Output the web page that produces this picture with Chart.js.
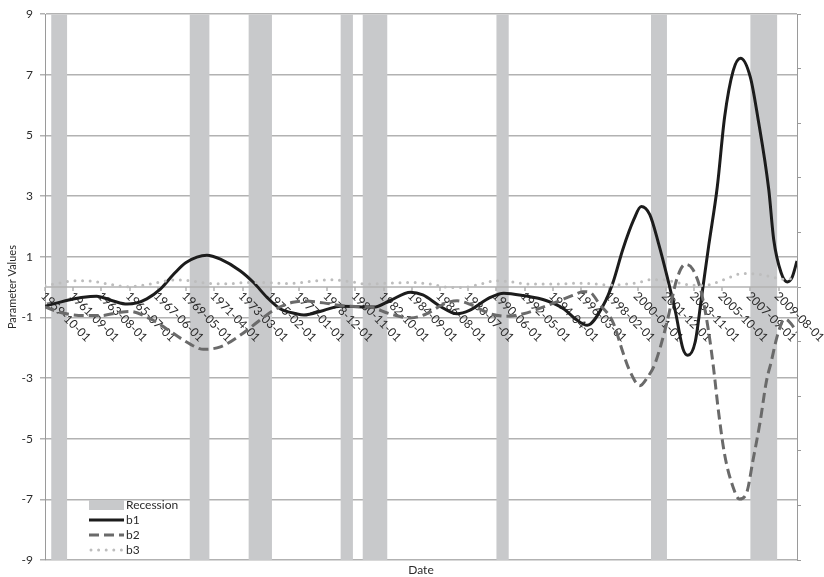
<!DOCTYPE html>
<html>
<head>
<meta charset="utf-8">
<script src="https://cdn.jsdelivr.net/npm/chart.js@4.4.1/dist/chart.umd.min.js"></script>
<style>
  html, body { margin: 0; padding: 0; background: #ffffff; }
  #wrap { width: 824px; height: 577px; }
</style>
</head>
<body>
<div id="wrap"><canvas id="chart" width="824" height="577"></canvas></div>
<script>
// Date labels shown along the zero line (every 23 months)
const AXIS_LABELS = ['1959-10-01','1961-09-01','1963-08-01','1965-07-01','1967-06-01','1969-05-01',
  '1971-04-01','1973-03-01','1975-02-01','1977-01-01','1978-12-01','1980-11-01','1982-10-01',
  '1984-09-01','1986-08-01','1988-07-01','1990-06-01','1992-05-01','1994-04-01','1996-03-01',
  '1998-02-01','2000-01-01','2001-12-01','2003-11-01','2005-10-01','2007-09-01','2009-08-01'];
const FIRST_MONTH = '1959-10';
const LAST_MONTH = '2010-11';
const Y_TICKS = [-9, -7, -5, -3, -1, 1, 3, 5, 7, 9];

// Recession periods (first month, month after the end)
const REC_START = ['1960-03','1969-08','1973-08','1979-11','1981-05','1990-06','2000-12','2007-09'];
const REC_END   = ['1961-04','1970-12','1975-03','1980-09','1983-01','1991-04','2002-01','2009-07'];

// b1 parameter path
const B1_DATES = ['1959-10','1961-09','1962-11','1963-04','1964-05','1965-05','1966-01','1966-09','1967-08',
  '1968-07','1969-05','1970-10','1971-09','1973-01','1973-12','1974-11','1975-10','1976-11','1977-05',
  '1978-09','1979-11','1982-02','1983-03','1984-08','1985-06','1986-08','1987-10','1988-08','1990-01',
  '1990-12','1992-04','1993-11','1995-01','1995-11','1996-08','1997-09','1998-05','1999-01','1999-10',
  '2000-04','2000-11','2001-06','2002-01','2002-08','2003-02','2003-06','2003-12','2004-05','2004-11',
  '2005-06','2005-12','2006-07','2007-01','2007-09','2008-03','2008-12','2009-04','2009-10','2010-03',
  '2010-07','2010-11'];
const B1_VALUES = [-0.63,-0.39,-0.31,-0.30,-0.45,-0.56,-0.52,-0.39,-0.07,
  0.43,0.81,1.05,0.92,0.54,0.15,-0.34,-0.72,-0.88,-0.92,
  -0.77,-0.63,-0.66,-0.45,-0.17,-0.26,-0.63,-0.88,-0.77,-0.34,
  -0.20,-0.28,-0.45,-0.72,-1.07,-1.26,-0.61,0.15,1.24,2.23,
  2.66,2.39,1.46,0.37,-0.83,-2.03,-2.25,-1.81,-0.39,1.36,
  3.30,5.61,7.14,7.55,6.92,5.61,3.21,1.57,0.48,0.17,
  0.32,0.86];

// b2 parameter path
const B2_DATES = ['1959-10','1960-10','1962-05','1963-07','1964-11','1965-07','1966-12','1968-01','1969-03',
  '1970-04','1970-07','1971-09','1973-01','1974-03','1975-04','1976-08','1977-05','1978-09','1980-04',
  '1981-11','1983-03','1984-08','1985-09','1986-11','1987-10','1988-08','1990-01','1991-02','1992-04',
  '1993-08','1995-01','1995-11','1996-04','1996-10','1997-06','1998-05','1999-01','1999-06','2000-03',
  '2000-09','2001-03','2002-01','2002-09','2003-04','2003-10','2004-05','2004-11','2005-03','2005-07',
  '2005-12','2006-07','2006-12','2007-06','2007-11','2008-05','2008-10','2009-02','2009-07','2010-01',
  '2010-06','2010-11'];
const B2_VALUES = [-0.65,-0.83,-0.94,-0.94,-0.83,-0.80,-1.05,-1.37,-1.75,
  -2.03,-2.05,-1.97,-1.59,-1.16,-0.77,-0.50,-0.46,-0.52,-0.63,
  -0.66,-0.88,-1.02,-0.88,-0.56,-0.45,-0.56,-0.88,-0.96,-0.88,
  -0.66,-0.39,-0.23,-0.15,-0.17,-0.56,-1.16,-2.14,-2.70,-3.25,
  -2.98,-2.55,-1.16,0.26,0.75,0.59,-0.17,-1.48,-2.68,-4.10,
  -5.52,-6.61,-6.99,-6.78,-5.74,-4.43,-3.12,-2.46,-1.60,-1.05,
  -1.20,-1.50];

// b3 parameter path
const B3_DATES = ['1959-10','1960-10','1961-09','1962-08','1963-07','1964-06','1965-05','1966-03','1967-02',
  '1968-01','1968-09','1969-08','1970-10','1972-02','1973-06','1974-11','1976-03','1976-11','1978-03',
  '1979-05','1980-07','1981-08','1983-03','1984-10','1985-12','1987-04','1988-03','1989-05','1990-06',
  '1991-05','1992-09','1994-07','1995-11','1996-10','1998-02','1999-04','2000-02','2000-11','2001-10',
  '2002-09','2003-08','2004-07','2005-05','2006-04','2007-03','2008-02','2009-01','2009-12','2010-11'];
const B3_VALUES = [0.05,0.13,0.21,0.21,0.15,0.07,0.01,0.05,0.12,
  0.21,0.24,0.21,0.13,0.11,0.15,0.15,0.12,0.13,0.21,
  0.24,0.18,0.10,0.13,0.15,0.10,-0.01,-0.01,0.10,0.21,
  0.18,0.10,0.10,0.13,0.12,0.07,0.10,0.15,0.24,0.24,
  0.15,0.07,0.05,0.15,0.32,0.45,0.43,0.35,0.26,0.30];

const TEXT_COLOR = '#2b2b2b';
const GRID_COLOR = '#b2b2b2';
const AXIS_COLOR = '#9a9a9a';
const FONT = 'Lato';

// months elapsed since the first observation
function monthIndex(s) {
  const [y, m] = s.split('-').map(Number);
  const [y0, m0] = FIRST_MONTH.split('-').map(Number);
  return (y - y0) * 12 + (m - m0);
}
const toPoints = (dates, values) => dates.map((d, i) => ({ x: monthIndex(d), y: values[i] }));

const recessionPoints = [];
REC_START.forEach((s, i) => {
  const a = monthIndex(s), b = monthIndex(REC_END[i]);
  recessionPoints.push({ x: a, y: 0 }, { x: a, y: 1 }, { x: b, y: 1 }, { x: b, y: 0 });
});

// zero line with its tick marks and the slanted date labels, drawn above the recession shading
const zeroAxis = {
  id: 'zeroAxis',
  afterDatasetDraw(chart, args) {
    if (chart.data.datasets[args.index].label !== 'Recession') return;
    const { ctx, chartArea, scales: { x, y } } = chart;
    const y0 = y.getPixelForValue(0);
    ctx.save();
    ctx.strokeStyle = GRID_COLOR;
    ctx.lineWidth = 1.5;
    ctx.beginPath();
    ctx.moveTo(chartArea.left, y0);
    ctx.lineTo(chartArea.right, y0);
    AXIS_LABELS.forEach(l => {
      const px = Math.round(x.getPixelForValue(monthIndex(l.slice(0, 7))));
      ctx.moveTo(px, y0);
      ctx.lineTo(px, y0 + 4);
    });
    ctx.stroke();
    ctx.fillStyle = TEXT_COLOR;
    ctx.font = '12px ' + FONT;
    ctx.textAlign = 'left';
    ctx.textBaseline = 'middle';
    AXIS_LABELS.forEach(l => {
      const px = x.getPixelForValue(monthIndex(l.slice(0, 7)));
      ctx.save();
      ctx.translate(px - 2, y0 + 7);
      ctx.rotate(Math.PI / 4);
      ctx.fillText(l, 0, 0);
      ctx.restore();
    });
    ctx.restore();
  }
};

// legend placed in the lower-left corner of the plot
const insideLegend = {
  id: 'insideLegend',
  afterDraw(chart) {
    const { ctx, chartArea } = chart;
    const x0 = chartArea.left + 44, w = 35;
    ctx.save();
    ctx.font = '12px ' + FONT;
    ctx.textBaseline = 'middle';
    ctx.textAlign = 'left';
    chart.data.datasets.forEach((ds, i) => {
      const cy = chartArea.bottom - 55 + i * 15;
      if (ds.label === 'Recession') {
        ctx.fillStyle = ds.backgroundColor;
        ctx.fillRect(x0, cy - 5, w, 10);
      } else {
        ctx.save();
        ctx.strokeStyle = ds.borderColor;
        ctx.lineWidth = ds.borderWidth;
        ctx.lineCap = ds.borderCapStyle || 'butt';
        ctx.setLineDash(ds.borderDash || []);
        ctx.beginPath();
        ctx.moveTo(x0 + (ds.borderCapStyle === 'round' ? 2 : 0), cy);
        ctx.lineTo(x0 + w, cy);
        ctx.stroke();
        ctx.restore();
      }
      ctx.fillStyle = TEXT_COLOR;
      ctx.fillText(ds.label, x0 + w + 2, cy + 0.5);
    });
    ctx.restore();
  }
};

const lineBase = { pointRadius: 0, pointHoverRadius: 0, fill: false, cubicInterpolationMode: 'monotone', yAxisID: 'y' };

new Chart(document.getElementById('chart'), {
  type: 'line',
  data: {
    datasets: [
      { label: 'Recession', data: recessionPoints, yAxisID: 'y2', fill: 'origin', tension: 0,
        backgroundColor: '#c8c9cb', borderWidth: 0, pointRadius: 0, order: 4 },
      { ...lineBase, label: 'b1', data: toPoints(B1_DATES, B1_VALUES),
        borderColor: '#1c1c1c', borderWidth: 3, order: 3 },
      { ...lineBase, label: 'b2', data: toPoints(B2_DATES, B2_VALUES),
        borderColor: '#6a6a6a', borderWidth: 3, borderDash: [10, 5], borderCapStyle: 'butt', order: 2 },
      { ...lineBase, label: 'b3', data: toPoints(B3_DATES, B3_VALUES),
        borderColor: '#bdbdbd', borderWidth: 3, borderDash: [0, 7.6], borderCapStyle: 'round', order: 1 }
    ]
  },
  options: {
    responsive: false,
    animation: false,
    devicePixelRatio: 1,
    layout: { padding: { top: 10, left: 0, right: 0, bottom: 0 } },
    plugins: { legend: { display: false }, tooltip: { enabled: false } },
    scales: {
      x: {
        type: 'linear',
        min: monthIndex(FIRST_MONTH),
        max: monthIndex(LAST_MONTH),
        ticks: { display: false },
        grid: { display: false },
        border: { display: false },
        afterFit: s => { s.height = 17; },
        title: { display: true, text: 'Date', color: TEXT_COLOR,
                 font: { family: FONT, size: 12 }, padding: { top: 0, bottom: 0 } }
      },
      y: {
        position: 'left',
        min: -9, max: 9,
        afterBuildTicks: s => { s.ticks = Y_TICKS.map(v => ({ value: v })); },
        afterFit: s => { s.width = 45; },
        grid: { color: GRID_COLOR, lineWidth: 1.5, tickLength: 5, drawTicks: true },
        border: { display: true, color: AXIS_COLOR, width: 1 },
        ticks: { padding: 7, color: TEXT_COLOR, font: { family: FONT, size: 12 } },
        title: { display: true, text: 'Parameter Values', color: TEXT_COLOR,
                 font: { family: FONT, size: 11 }, padding: { top: 6, bottom: 0 } }
      },
      y2: {
        position: 'right',
        min: 0, max: 1,
        ticks: { display: false, stepSize: 0.1 },
        afterFit: s => { s.width = 27; },
        grid: { drawOnChartArea: false, drawTicks: true, tickLength: 4, color: AXIS_COLOR },
        border: { display: true, color: AXIS_COLOR, width: 1 }
      }
    }
  },
  plugins: [zeroAxis, insideLegend]
});
</script>
</body>
</html>
